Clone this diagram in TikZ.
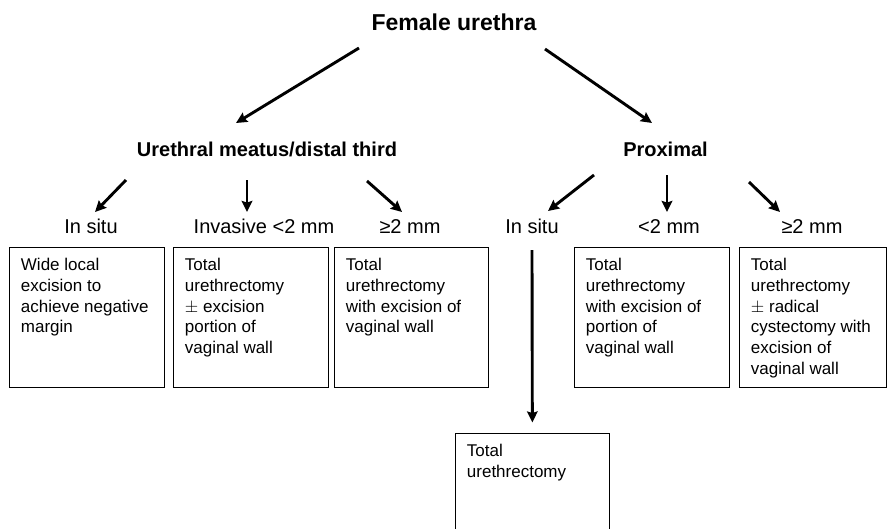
\documentclass[tikz,border=0pt]{standalone}
\usepackage{fontspec}
\setmainfont{Liberation Sans}
\usetikzlibrary{arrows.meta,calc}

\tikzset{
  arr/.style={-{Stealth[length=11pt,width=10.5pt,inset=1.5pt]},line width=2.9pt},
  cell/.style={draw,line width=0.9pt,anchor=north west,inner xsep=11.5pt,inner ysep=11pt,
    font=\fontsize{17}{20.7}\selectfont},
  lbl/.style={anchor=base,inner sep=0pt,font=\fontsize{20}{24}\selectfont},
  head/.style={anchor=base,inner sep=0pt,font=\bfseries\fontsize{20}{24}\selectfont}
}
\newcommand{\celltext}[3][118pt]{\parbox[t][#1][t]{#2}{\raggedright #3}}

\begin{document}
\begin{tikzpicture}[x=1pt,y=-1pt]
\useasboundingbox (0,0) rectangle (887,528);

% headings
\node[head,font=\bfseries\fontsize{23}{28}\selectfont] (fu) at (454,30) {Female urethra};
\node[head] (dis)  at (267,156.5) {Urethral meatus/distal third};
\node[head] (prox) at (665.5,156.5) {Proximal};

% stage labels
\node[lbl] (d1) at (91,233)  {In situ};
\node[lbl] (d2) at (264,233) {Invasive <2 mm};
\node[lbl] (d3) at (410,233) {≥2 mm};
\node[lbl] (p1) at (532,233) {In situ};
\node[lbl] (p2) at (669,233) {<2 mm};
\node[lbl] (p3) at (812,233) {≥2 mm};

% treatment boxes
\node[cell] (b1) at (9,247)   {\celltext{132pt}{Wide local\\ excision to\\ achieve negative\\ margin}};
\node[cell] (b2) at (173,247) {\celltext{132pt}{Total\\ urethrectomy\\ $\pm$ excision\\ portion of\\ vaginal wall}};
\node[cell] (b3) at (334,247) {\celltext{131pt}{Total\\ urethrectomy\\ with excision of\\ vaginal wall}};
\node[cell] (b5) at (574,247) {\celltext{132pt}{Total\\ urethrectomy\\ with excision of\\ portion of\\ vaginal wall}};
\node[cell] (b6) at (739,247) {\celltext{124pt}{Total\\ urethrectomy\\ $\pm$ radical\\ cystectomy with\\ excision of\\ vaginal wall}};
\node[cell] (b4) at (455,433) {\celltext[76pt]{131pt}{Total\\ urethrectomy}};

% arrow ends
\coordinate (s1) at (359,48);  \coordinate (e1) at (236,123);
\coordinate (s2) at (545,49);  \coordinate (e2) at (652,123);
\coordinate (s3) at (126,180); \coordinate (e3) at (95,212);
\coordinate (s4) at (247,180); \coordinate (e4) at (247,212);
\coordinate (s5) at (367,181); \coordinate (e5) at (402,212);
\coordinate (s6) at (594,175); \coordinate (e6) at (548,211);
\coordinate (s7) at (667,175); \coordinate (e7) at (667,212);
\coordinate (s8) at (749,182); \coordinate (e8) at (780,212);
\coordinate (s9) at (532,250);

\foreach \x in {1,...,8}{\draw[arr] (s\x) -- (e\x);}
\draw[arr,shorten >=10.5pt] (s9) -- (b4);

\end{tikzpicture}
\end{document}
